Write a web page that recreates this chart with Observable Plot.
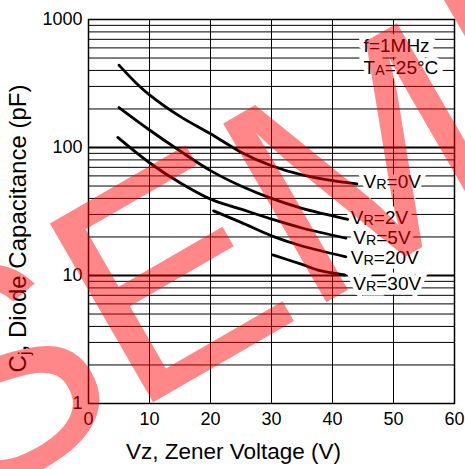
<!DOCTYPE html>
<html><head><meta charset="utf-8">
<script src="https://cdn.jsdelivr.net/npm/d3@7"></script>
<script src="https://cdn.jsdelivr.net/npm/@observablehq/plot@0.6"></script>
<style>body{margin:0;background:#fff;}</style>
</head><body><div id="chart"></div>
<script>
// Tick labels and grid values
const xTicks = [0, 10, 20, 30, 40, 50, 60];
const yTicks = [1, 10, 100, 1000];
const xGrid = [10, 20, 30, 40, 50];
const yMajor = [10, 100];
const yMinor = [2,3,4,5,6,7,8,9,20,30,40,50,60,70,80,90,200,300,400,500,600,700,800,900];

// Series: [Vz (V), Cj (pF)]
const vr0V  = [[5,440],[7.5,330],[10,258],[15,175],[20,128],[25,92],[30,72],[35,61],[40,55],[44,52]];
const vr2V  = [[5,205],[10,137],[15,94],[20,66],[25,50],[30,40],[35,33.5],[42.5,27.5]];
const vr5V  = [[4.8,120],[10,76],[15,53],[20,39.5],[25,33],[30,27.6],[35,23.5],[42.2,19.6]];
const vr20V = [[20.5,32],[25,26],[30,20.4],[35,17],[42.2,14]];
const vr30V = [[30.2,14.5],[35,12.2],[38,10.9],[42,10.1]];
const seriesNames = ["VR=0V", "VR=2V", "VR=5V", "VR=20V", "VR=30V"];
const seriesData = [vr0V, vr2V, vr5V, vr20V, vr30V];

// Curve labels (data coords)
const labelX = [45.1, 43.0, 43.4, 43.0, 43.4];
const labelY = [54.2, 28.4, 19.6, 13.8, 8.57];

// Condition notes
const notes = ["f=1MHz", "TA=25°C"];
const noteX = [45.1, 45.1];
const noteY = [623, 416];

const xTitle = "Vz, Zener Voltage (V)";
const yTitle = "Cj, Diode Capacitance (pF)";
const watermark = "SEMI";

const rows = seriesData.flatMap((s, i) => s.map(([x, y]) => ({x, y, z: seriesNames[i]})));
const labels = seriesNames.map((n, i) => ({text: n, x: labelX[i], y: labelY[i]}))
  .concat(notes.map((n, i) => ({text: n, x: noteX[i], y: noteY[i]})));

const font = "'Liberation Sans', Arial, Helvetica, sans-serif";

const chart = Plot.plot({
  width: 465, height: 469,
  marginLeft: 88, marginRight: 11, marginTop: 19, marginBottom: 66,
  x: {domain: [0, 60]},
  y: {type: "log", domain: [1, 1000]},
  style: {fontFamily: font, background: "white", color: "black"},
  marks: [
    Plot.ruleY(yMinor, {stroke: "black", strokeWidth: 1}),
    Plot.ruleY(yMajor, {stroke: "black", strokeWidth: 2}),
    Plot.ruleX(xGrid, {stroke: "black", strokeWidth: 1}),
    Plot.frame({stroke: "black", strokeWidth: 1.5}),
    Plot.axisX(xTicks, {tickSize: 0, tickPadding: 9, fontSize: 18, label: null, tickFormat: d => String(d)}),
    Plot.axisY(yTicks, {tickSize: 0, tickPadding: 6, fontSize: 18, label: null, tickFormat: d => String(d)}),
    Plot.line(rows, {x: "x", y: "y", z: "z", curve: "catmull-rom", stroke: "black", strokeWidth: 2.8}),
    // white halo behind labels
    Plot.text(labels, {x: "x", y: "y", text: "text", textAnchor: "start", lineAnchor: "middle", fontSize: 19,
      fill: "white", stroke: "white", strokeWidth: 9, strokeLinejoin: "miter"}),
    Plot.text(labels, {x: "x", y: "y", text: "text", textAnchor: "start", lineAnchor: "middle", fontSize: 19, fill: "black"}),
    Plot.text([xTitle], {text: d => d, frameAnchor: "bottom", textAnchor: "middle", lineAnchor: "middle", dx: -38, dy: 48, fontSize: 22.5}),
    Plot.text([yTitle], {text: d => d, frameAnchor: "left", textAnchor: "middle", lineAnchor: "middle", rotate: -90, dx: -70, dy: 17, fontSize: 24}),
    Plot.text([watermark], {text: d => d, frameAnchor: "bottom-left", textAnchor: "start", lineAnchor: "middle", rotate: -30,
      fontSize: 300, fill: "red", fillOpacity: 0.47, dx: -178, dy: 28})
  ]
});

// subscripts
const ns = "http://www.w3.org/2000/svg";
const subs = [["VR=", 19, 1], ["TA=", 19, 1], ["Cj,", 24, 4]];
chart.querySelectorAll("text").forEach(t => {
  const s = t.textContent;
  for (const [pre, fs, shift] of subs) {
    if (s.startsWith(pre)) {
      t.textContent = "";
      const a = document.createElementNS(ns, "tspan"); a.textContent = s[0];
      const b = document.createElementNS(ns, "tspan"); b.textContent = s[1];
      b.setAttribute("font-size", (pre === "Cj," ? fs * 0.7 : fs * 0.75) + "px");
      b.setAttribute("dy", shift);
      const c = document.createElementNS(ns, "tspan"); c.textContent = s.slice(2);
      c.setAttribute("dy", -shift);
      t.append(a, b, c);
    }
  }
});
document.getElementById("chart").append(chart);
</script>
</body></html>
